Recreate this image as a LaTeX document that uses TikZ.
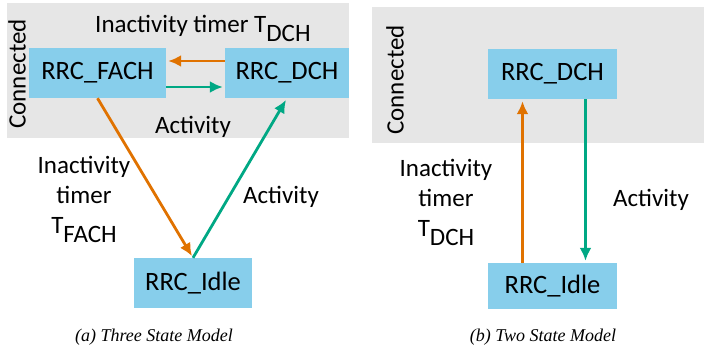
\documentclass[tikz,border=0pt]{standalone}
\usepackage{fontspec}
\setmainfont{Carlito}
\newfontfamily\capfont{Liberation Serif}
\usetikzlibrary{arrows.meta}

\definecolor{stateblue}{HTML}{87CEEB}
\definecolor{zonegray}{HTML}{E6E6E6}
\definecolor{timerorange}{HTML}{E07200}
\definecolor{activegreen}{HTML}{00A884}

\tikzset{
	state/.style={fill=stateblue, minimum height=50, inner sep=0, font=\fontsize{26.5}{30}\selectfont},
	lbl/.style={font=\fontsize{25}{30}\selectfont, align=center, inner sep=0},
	caption/.style={font=\capfont\itshape\fontsize{18}{20}\selectfont, inner sep=0},
	trans/.style={line width=2.8, -{Latex[length=13,width=12]}, shorten >=2},
}
% timer name with a lowered index
\newcommand{\timersub}[1]{T\raisebox{-0.36em}{#1}}

\begin{document}
\begin{tikzpicture}[x=1pt, y=-1pt]
\useasboundingbox (0,0) rectangle (704,349);

% connected zones
\fill[zonegray] (7,3) rectangle (349,138);
\fill[zonegray] (372,7) rectangle (704,143);

% three state model
\node[lbl, rotate=90] (conna) at (17,74) {Connected};
\node[state, minimum width=137] (fach) at (97.5,73) {RRC\_FACH};
\node[state, minimum width=124] (dcha) at (287,73) {RRC\_DCH};
\node[state, minimum width=118] (idlea) at (193,283) {RRC\_Idle};

\draw[trans, timerorange] ([yshift=12]dcha.west) -- ([yshift=12]fach.east);
\draw[trans, activegreen] ([yshift=-14]fach.east) -- ([yshift=-14]dcha.west);
\draw[trans, timerorange] (fach.south) -- (idlea.north);
\draw[trans, activegreen] (idlea.north) -- (dcha.south);

\node[lbl, anchor=base west] (tdcha) at (95,32) {Inactivity timer \timersub{DCH}};
\node[lbl] (acta) at (193,127) {Activity};
\node[lbl] (tfach) at (84,199) {Inactivity\\timer\\\timersub{FACH}};
\node[lbl] (actb) at (281,197) {Activity};
\node[caption] (capa) at (154,337) {(a) Three State Model};

% two state model
\node[lbl, rotate=90] (connb) at (395,80) {Connected};
\node[state, minimum width=129] (dchb) at (552.5,74) {RRC\_DCH};
\node[state, minimum width=129, minimum height=46] (idleb) at (552.5,286) {RRC\_Idle};

\draw[trans, timerorange] ([xshift=-30]idleb.north) -- ([xshift=-30]dchb.south);
\draw[trans, activegreen] ([xshift=33]dchb.south) -- ([xshift=33]idleb.north);

\node[lbl] (tdchb) at (446,202) {Inactivity\\timer\\\timersub{DCH}};
\node[lbl] (actc) at (651,200) {Activity};
\node[caption] (capb) at (543,337) {(b) Two State Model};
\end{tikzpicture}
\end{document}
